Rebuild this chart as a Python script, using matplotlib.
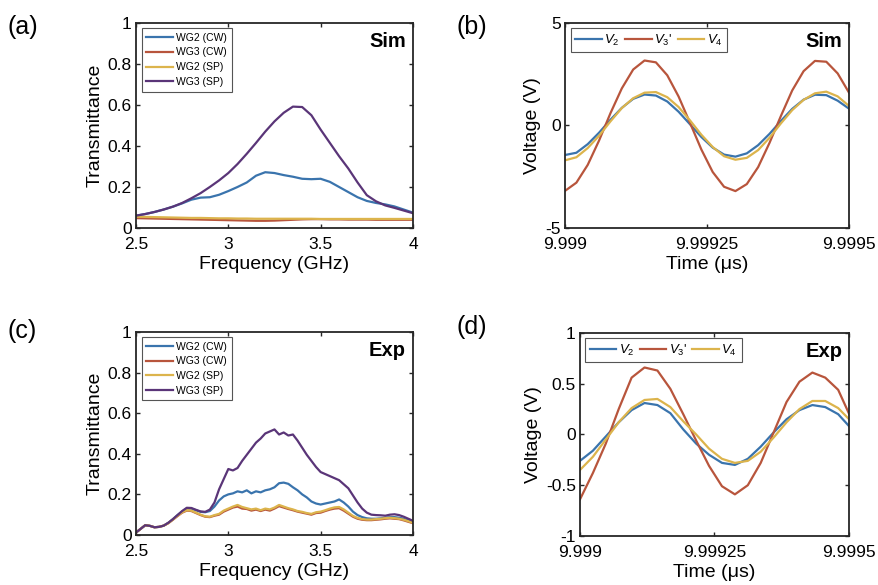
import numpy as np
import matplotlib
matplotlib.use("Agg")
import matplotlib.pyplot as plt

plt.rcParams['font.family'] = ['Liberation Sans', 'DejaVu Sans']
plt.rcParams['mathtext.fontset'] = 'custom'
plt.rcParams['mathtext.rm'] = 'Liberation Sans'
plt.rcParams['mathtext.it'] = 'Liberation Sans:italic'
plt.rcParams['axes.unicode_minus'] = False

# ---- (a) simulated transmittance, 2.5-4 GHz in 0.05 GHz steps ----
freq_sim = np.linspace(2.5, 4.0, 31)
sim_wg2_cw = [0.060, 0.068, 0.078, 0.090, 0.104, 0.120, 0.138, 0.148, 0.150, 0.162,
              0.180, 0.200, 0.222, 0.255, 0.272, 0.268, 0.258, 0.250, 0.240, 0.238,
              0.240, 0.225, 0.200, 0.175, 0.150, 0.132, 0.122, 0.115, 0.105, 0.090, 0.075]
sim_wg3_cw = [0.048, 0.047, 0.046, 0.045, 0.044, 0.043, 0.042, 0.041, 0.040, 0.039,
              0.038, 0.037, 0.036, 0.035, 0.035, 0.036, 0.038, 0.040, 0.042, 0.043,
              0.043, 0.042, 0.042, 0.041, 0.041, 0.041, 0.040, 0.040, 0.040, 0.040, 0.040]
sim_wg2_sp = [0.055, 0.054, 0.053, 0.052, 0.051, 0.050, 0.049, 0.049, 0.048, 0.047,
              0.047, 0.046, 0.046, 0.045, 0.045, 0.045, 0.045, 0.045, 0.045, 0.045,
              0.044, 0.044, 0.044, 0.044, 0.044, 0.044, 0.044, 0.044, 0.044, 0.044, 0.044]
sim_wg3_sp = [0.060, 0.068, 0.078, 0.090, 0.104, 0.122, 0.145, 0.170, 0.200, 0.232,
              0.268, 0.312, 0.362, 0.415, 0.470, 0.520, 0.562, 0.592, 0.590, 0.550,
              0.480, 0.415, 0.350, 0.290, 0.222, 0.160, 0.130, 0.110, 0.098, 0.085, 0.072]

# ---- (c) measured transmittance, 2.5-4 GHz in 0.025 GHz steps ----
freq_exp = np.linspace(2.5, 4.0, 61)
exp_wg2_cw = [0.012, 0.030, 0.048, 0.045, 0.038, 0.040, 0.046, 0.060, 0.078, 0.098,
              0.116, 0.130, 0.130, 0.122, 0.114, 0.112, 0.118, 0.140, 0.170, 0.190,
              0.200, 0.205, 0.215, 0.210, 0.220, 0.205, 0.215, 0.210, 0.220, 0.225,
              0.235, 0.255, 0.258, 0.252, 0.235, 0.220, 0.200, 0.185, 0.165, 0.155,
              0.150, 0.155, 0.160, 0.165, 0.175, 0.160, 0.140, 0.115, 0.098, 0.088,
              0.082, 0.080, 0.080, 0.082, 0.085, 0.088, 0.088, 0.085, 0.080, 0.072, 0.065]
exp_wg3_cw = [0.012, 0.030, 0.048, 0.045, 0.038, 0.040, 0.046, 0.058, 0.075, 0.093,
              0.110, 0.120, 0.118, 0.108, 0.098, 0.090, 0.088, 0.095, 0.100, 0.115,
              0.125, 0.135, 0.140, 0.130, 0.128, 0.120, 0.125, 0.118, 0.125, 0.120,
              0.130, 0.142, 0.135, 0.128, 0.122, 0.115, 0.110, 0.105, 0.100, 0.108,
              0.110, 0.118, 0.125, 0.130, 0.132, 0.120, 0.105, 0.090, 0.080, 0.075,
              0.073, 0.073, 0.075, 0.077, 0.080, 0.082, 0.080, 0.078, 0.072, 0.065, 0.058]
exp_wg2_sp = [0.012, 0.030, 0.048, 0.045, 0.038, 0.040, 0.046, 0.058, 0.076, 0.095,
              0.112, 0.122, 0.120, 0.110, 0.100, 0.092, 0.090, 0.098, 0.104, 0.120,
              0.130, 0.140, 0.148, 0.138, 0.132, 0.126, 0.130, 0.122, 0.130, 0.126,
              0.135, 0.148, 0.140, 0.132, 0.126, 0.118, 0.114, 0.108, 0.104, 0.112,
              0.115, 0.122, 0.130, 0.136, 0.138, 0.126, 0.110, 0.094, 0.084, 0.078,
              0.076, 0.076, 0.078, 0.080, 0.083, 0.085, 0.083, 0.080, 0.075, 0.068, 0.060]
exp_wg3_sp = [0.012, 0.030, 0.048, 0.045, 0.038, 0.040, 0.046, 0.060, 0.078, 0.098,
              0.118, 0.134, 0.133, 0.124, 0.116, 0.114, 0.125, 0.160, 0.225, 0.275,
              0.325, 0.318, 0.330, 0.365, 0.395, 0.425, 0.455, 0.475, 0.500, 0.510,
              0.520, 0.495, 0.505, 0.490, 0.495, 0.465, 0.430, 0.395, 0.365, 0.335,
              0.310, 0.300, 0.290, 0.280, 0.270, 0.250, 0.230, 0.195, 0.160, 0.130,
              0.110, 0.100, 0.098, 0.097, 0.095, 0.100, 0.102, 0.098, 0.090, 0.080, 0.070]

# ---- (b) simulated voltages, time step 0.00002 us ----
t_sim = 9.999 + np.arange(26) * 0.00002
sim_v2 = [-1.44, -1.33, -0.91, -0.35, 0.28, 0.86, 1.30, 1.51, 1.46, 1.17,
          0.67, 0.06, -0.56, -1.08, -1.42, -1.52, -1.36, -0.96, -0.41, 0.22,
          0.81, 1.26, 1.50, 1.48, 1.21, 0.82]
sim_v3 = [-3.19, -2.79, -1.92, -0.73, 0.60, 1.81, 2.73, 3.17, 3.08, 2.45,
          1.41, 0.13, -1.17, -2.27, -2.99, -3.20, -2.86, -2.03, -0.85, 0.46,
          1.71, 2.65, 3.15, 3.11, 2.54, 1.60]
sim_v4 = [-1.70, -1.55, -1.10, -0.50, 0.20, 0.85, 1.33, 1.60, 1.63, 1.38,
          0.90, 0.25, -0.45, -1.05, -1.50, -1.67, -1.58, -1.20, -0.60, 0.10,
          0.75, 1.25, 1.57, 1.65, 1.42, 0.95]

# ---- (d) measured voltages, sample step 0.000024 us ----
t_exp = 9.999 + np.arange(22) * 0.000024
exp_v2 = [-0.26, -0.16, -0.02, 0.12, 0.24, 0.31, 0.29, 0.21, 0.05, -0.09,
          -0.20, -0.28, -0.30, -0.24, -0.12, 0.02, 0.15, 0.24, 0.29, 0.27,
          0.20, 0.06]
exp_v3 = [-0.64, -0.38, -0.09, 0.25, 0.56, 0.66, 0.63, 0.45, 0.20, -0.06,
          -0.31, -0.51, -0.59, -0.50, -0.28, 0.02, 0.32, 0.52, 0.61, 0.56,
          0.44, 0.16]
exp_v4 = [-0.35, -0.22, -0.05, 0.12, 0.26, 0.34, 0.35, 0.27, 0.13, 0.00,
          -0.14, -0.24, -0.28, -0.26, -0.17, -0.03, 0.12, 0.25, 0.33, 0.33,
          0.26, 0.13]

wg_labels = ['WG2 (CW)', 'WG3 (CW)', 'WG2 (SP)', 'WG3 (SP)']
v_labels = [r'$V_2$', r"$V_3$'", r'$V_4$']
freq_ticks = [2.5, 3, 3.5, 4]
freq_ticklabels = ['2.5', '3', '3.5', '4']
trans_ticks = [0, 0.2, 0.4, 0.6, 0.8, 1]
trans_ticklabels = ['0', '0.2', '0.4', '0.6', '0.8', '1']
time_ticks = [9.999, 9.99925, 9.9995]
time_ticklabels = ['9.999', '9.99925', '9.9995']
vsim_ticks = [-5, 0, 5]
vsim_ticklabels = ['-5', '0', '5']
vexp_ticks = [-1, -0.5, 0, 0.5, 1]
vexp_ticklabels = ['-1', '-0.5', '0', '0.5', '1']

colors = ['#3a74ad', '#b8553c', '#dcb44c', '#5a3578']

fig = plt.figure(figsize=(8.79, 5.85), dpi=100)
ax_a = fig.add_axes([0.1547, 0.6103, 0.3151, 0.3504])
ax_b = fig.add_axes([0.6428, 0.6103, 0.3231, 0.3504])
ax_c = fig.add_axes([0.1547, 0.0855, 0.3151, 0.3470])
ax_d = fig.add_axes([0.6598, 0.0838, 0.3060, 0.3470])


def style(ax):
    for s in ax.spines.values():
        s.set_linewidth(1.3)
        s.set_color('#262626')
    ax.tick_params(direction='in', top=True, right=True, length=3, width=1,
                   labelsize=12.5, pad=3, colors='#262626')
    ax.tick_params(axis='x', pad=6.5)
    for lab in ax.get_xticklabels() + ax.get_yticklabels():
        lab.set_color('black')


# (a)
for ys, c, lab in zip([sim_wg2_cw, sim_wg3_cw, sim_wg2_sp, sim_wg3_sp], colors, wg_labels):
    ax_a.plot(freq_sim, ys, color=c, lw=1.6, label=lab)
# (c)
for ys, c, lab in zip([exp_wg2_cw, exp_wg3_cw, exp_wg2_sp, exp_wg3_sp], colors, wg_labels):
    ax_c.plot(freq_exp, ys, color=c, lw=1.6, label=lab)

for ax, tag in [(ax_a, 'Sim'), (ax_c, 'Exp')]:
    ax.set_xlim(2.5, 4)
    ax.set_ylim(0, 1)
    ax.set_xticks(freq_ticks)
    ax.set_xticklabels(freq_ticklabels)
    ax.set_yticks(trans_ticks)
    ax.set_yticklabels(trans_ticklabels)
    ax.set_xlabel('Frequency (GHz)', fontsize=14, labelpad=3)
    ax.set_ylabel('Transmittance', fontsize=14, labelpad=3)
    leg = ax.legend(loc='upper left', bbox_to_anchor=(0.02, 0.975), borderaxespad=0,
                    fontsize=7.5, handlelength=2.6, handletextpad=0.3, labelspacing=0.45,
                    borderpad=0.45, fancybox=False, framealpha=1)
    leg.get_frame().set_edgecolor('#555555')
    leg.get_frame().set_linewidth(0.8)
    ax.text(0.975, 0.955, tag, transform=ax.transAxes, ha='right', va='top',
            fontsize=14.5, fontweight='bold')
    style(ax)

# (b) and (d)
for ys, c, lab in zip([sim_v2, sim_v3, sim_v4], colors[:3], v_labels):
    ax_b.plot(t_sim, ys, color=c, lw=1.6, label=lab)
for ys, c, lab in zip([exp_v2, exp_v3, exp_v4], colors[:3], v_labels):
    ax_d.plot(t_exp, ys, color=c, lw=1.6, label=lab)

for ax, tag, yt, ytl in [(ax_b, 'Sim', vsim_ticks, vsim_ticklabels),
                         (ax_d, 'Exp', vexp_ticks, vexp_ticklabels)]:
    ax.set_xlim(9.999, 9.9995)
    ax.set_ylim(yt[0], yt[-1])
    ax.set_xticks(time_ticks)
    ax.set_xticklabels(time_ticklabels)
    ax.set_yticks(yt)
    ax.set_yticklabels(ytl)
    ax.set_xlabel('Time (\u03bcs)', fontsize=14, labelpad=3)
    ax.set_ylabel('Voltage (V)', fontsize=14, labelpad=3)
    leg = ax.legend(loc='upper left', bbox_to_anchor=(0.02, 0.975), borderaxespad=0,
                    ncol=3, fontsize=9.5, handlelength=2.0, handletextpad=0.2,
                    columnspacing=0.4, borderpad=0.35, fancybox=False, framealpha=1)
    leg.get_frame().set_edgecolor('#555555')
    leg.get_frame().set_linewidth(0.8)
    ax.text(0.975, 0.955, tag, transform=ax.transAxes, ha='right', va='top',
            fontsize=14.5, fontweight='bold')
    style(ax)

# panel letters
for x, y, s in [(0.009, 0.975, '(a)'), (0.519, 0.975, '(b)'),
                (0.009, 0.455, '(c)'), (0.519, 0.462, '(d)')]:
    fig.text(x, y, s, fontsize=18, va='top', ha='left')

fig.savefig('out.png', dpi=100)
